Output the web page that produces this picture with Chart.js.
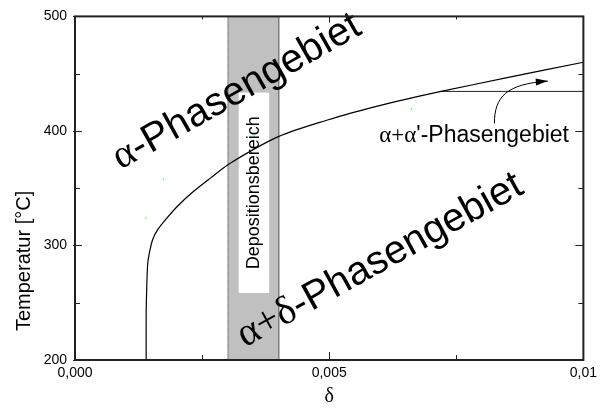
<!DOCTYPE html>
<html>
<head>
<meta charset="utf-8">
<script src="https://cdn.jsdelivr.net/npm/chart.js@4/dist/chart.umd.min.js"></script>
<style>
  html, body { margin: 0; padding: 0; background: #fff; }
  #chart { display: block; }
</style>
</head>
<body>
<canvas id="chart" width="602" height="408"></canvas>
<script>
// phase boundary (solvus)
const solvusDelta = [0.0014, 0.0014, 0.00141, 0.00143, 0.00147, 0.00153, 0.00163, 0.00179, 0.00202, 0.00234, 0.00267, 0.00306, 0.004, 0.005, 0.00576, 0.00635, 0.0072, 0.0085, 0.01];
const solvusTemp  = [200, 240, 261, 284, 295, 305.5, 314, 323, 334.5, 347.5, 359, 372, 395, 410, 419.5, 426, 434.5, 446.5, 460];

// horizontal line marking the α+α' region
const tieDelta = [0.0072, 0.01];
const tieTemp  = [434.5, 434.5];

// deposition range
const bandDelta = [0.003, 0.004];
const boxDelta  = [0.00322, 0.00382];
const boxTemp   = [258.5, 433.5];

// stray green pixels in the original
const speckDelta = [0.00174, 0.00139, 0.00662, 0.0035];
const speckTemp  = [358, 324, 419, 396.5];

// arrow pointing into the α+α' region
const arrowDelta = [0.00825, 0.00825, 0.00849, 0.0093];
const arrowTemp  = [406.5, 430, 441, 443.5];

const xTicks = [0, 0.0025, 0.005, 0.0075, 0.01];
const xTickLabels = ['0,000', '', '0,005', '', '0,01'];
const yTicks = [200, 250, 300, 350, 400, 450, 500];
const yTickLabels = ['200', '', '300', '', '400', '', '500'];

const SANS = '"Liberation Sans", Arial, sans-serif';
const SERIF = '"Liberation Serif", "Times New Roman", serif';

function pts(xs, ys) {
  return xs.map((x, i) => ({ x, y: ys[i] }));
}

function richText(ctx, runs, size, x, y, angle) {
  const fontOf = r => `${size}px ${r.greek ? SERIF : SANS}`;
  let w = 0;
  runs.forEach(r => { ctx.font = fontOf(r); w += ctx.measureText(r.t).width; });
  ctx.save();
  ctx.translate(x, y);
  ctx.rotate(angle * Math.PI / 180);
  ctx.fillStyle = '#000';
  ctx.textAlign = 'left';
  ctx.textBaseline = 'middle';
  let cx = -w / 2;
  runs.forEach(r => {
    ctx.font = fontOf(r);
    ctx.fillText(r.t, cx, 0);
    cx += ctx.measureText(r.t).width;
  });
  ctx.restore();
}

const phasePlot = {
  id: 'phasePlot',
  beforeDatasetsDraw(chart) {
    const { ctx, chartArea: a, scales: { x, y } } = chart;
    ctx.save();
    // grey deposition band
    const x0 = x.getPixelForValue(bandDelta[0]);
    const x1 = x.getPixelForValue(bandDelta[1]);
    ctx.fillStyle = '#c0c0c0';
    ctx.fillRect(x0, a.top, x1 - x0, a.bottom - a.top);
    ctx.strokeStyle = '#444';
    ctx.lineWidth = 1;
    ctx.setLineDash([1, 1]);
    ctx.beginPath(); ctx.moveTo(x0 + 0.5, a.top); ctx.lineTo(x0 + 0.5, a.bottom); ctx.stroke();
    ctx.setLineDash([]);
    ctx.beginPath(); ctx.moveTo(x1 + 0.5, a.top); ctx.lineTo(x1 + 0.5, a.bottom); ctx.stroke();

    // white label box
    const bx0 = x.getPixelForValue(boxDelta[0]);
    const bx1 = x.getPixelForValue(boxDelta[1]);
    const by0 = y.getPixelForValue(boxTemp[1]);
    const by1 = y.getPixelForValue(boxTemp[0]);
    ctx.fillStyle = '#fff';
    ctx.fillRect(bx0, by0, bx1 - bx0, by1 - by0);
    richText(ctx, [{ t: 'Depositionsbereich' }], 18, (bx0 + bx1) / 2, (by0 + by1) / 2, -90);
    ctx.restore();
  },
  afterDatasetsDraw(chart) {
    const { ctx, chartArea: a, scales: { x, y } } = chart;
    ctx.save();
    richText(ctx, [{ t: 'α', greek: true }, { t: '-Phasengebiet' }], 40,
      x.getPixelForValue(0.00318), y.getPixelForValue(434), -29.5);
    richText(ctx, [{ t: 'α+δ', greek: true }, { t: '-Phasengebiet' }], 40,
      x.getPixelForValue(0.0060), y.getPixelForValue(286.7), -29);
    richText(ctx, [{ t: 'α+α', greek: true }, { t: "'-Phasengebiet" }], 23,
      x.getPixelForValue(0.00785), y.getPixelForValue(396), 0);

    // y axis title, sits a little below the axis middle in the original
    richText(ctx, [{ t: 'Temperatur [°C]' }], 20, 24, y.getPixelForValue(286.5), -90);

    // curved arrow
    const ap = arrowDelta.map((d, i) => [x.getPixelForValue(d), y.getPixelForValue(arrowTemp[i])]);
    ctx.strokeStyle = '#000';
    ctx.lineWidth = 1;
    ctx.beginPath();
    ctx.moveTo(ap[0][0], ap[0][1]);
    ctx.bezierCurveTo(ap[1][0], ap[1][1], ap[2][0], ap[2][1], ap[3][0], ap[3][1]);
    ctx.stroke();
    const ang = Math.atan2(ap[3][1] - ap[2][1], ap[3][0] - ap[2][0]);
    ctx.fillStyle = '#000';
    ctx.beginPath();
    ctx.moveTo(ap[3][0], ap[3][1]);
    ctx.lineTo(ap[3][0] - 12 * Math.cos(ang) + 3.5 * Math.sin(ang), ap[3][1] - 12 * Math.sin(ang) - 3.5 * Math.cos(ang));
    ctx.lineTo(ap[3][0] - 12 * Math.cos(ang) - 3.5 * Math.sin(ang), ap[3][1] - 12 * Math.sin(ang) + 3.5 * Math.cos(ang));
    ctx.closePath();
    ctx.fill();

    // frame
    ctx.strokeStyle = '#222';
    ctx.lineWidth = 2;
    ctx.strokeRect(a.left, a.top, a.right - a.left, a.bottom - a.top);

    // inward ticks on all four sides
    ctx.lineWidth = 1;
    ctx.beginPath();
    xTicks.forEach((v, i) => {
      const px = Math.round(x.getPixelForValue(v)) + 0.5;
      const len = xTickLabels[i] ? 8 : 5;
      ctx.moveTo(px, a.bottom); ctx.lineTo(px, a.bottom - len);
      ctx.moveTo(px, a.top); ctx.lineTo(px, a.top + len - 2);
    });
    yTicks.forEach((v, i) => {
      const py = Math.round(y.getPixelForValue(v)) + 0.5;
      const major = !!yTickLabels[i];
      ctx.moveTo(major ? a.left - 2 : a.left, py); ctx.lineTo(a.left + (major ? 7 : 5), py);
      ctx.moveTo(a.right, py); ctx.lineTo(a.right - (major ? 8 : 5), py);
    });
    ctx.stroke();
    ctx.restore();
  }
};

new Chart(document.getElementById('chart'), {
  type: 'scatter',
  data: {
    datasets: [
      { label: 'Solvus', data: pts(solvusDelta, solvusTemp), showLine: true, borderColor: '#000', borderWidth: 1.2, pointRadius: 0, tension: 0.3 },
      { label: 'Grenze', data: pts(tieDelta, tieTemp), showLine: true, borderColor: '#222', borderWidth: 1, pointRadius: 0 },
      { label: 'Punkte', data: pts(speckDelta, speckTemp), pointRadius: 0.8, pointBorderWidth: 0, pointBackgroundColor: '#33ff33' }
    ]
  },
  options: {
    responsive: false,
    animation: false,
    devicePixelRatio: 1,
    layout: { padding: { left: 0, right: 15, top: 14, bottom: 0 } },
    plugins: { legend: { display: false }, tooltip: { enabled: false } },
    scales: {
      x: {
        type: 'linear', min: 0, max: 0.01,
        afterBuildTicks: s => { s.ticks = xTicks.map(v => ({ value: v })); },
        afterFit: s => { s.height = 48; },
        ticks: { callback: (v, i) => xTickLabels[i], font: { family: SANS, size: 14 }, color: '#000', padding: 5, maxRotation: 0, autoSkip: false },
        grid: { display: false, drawTicks: false },
        border: { display: false },
        title: { display: true, text: 'δ', font: { family: SERIF, size: 20, lineHeight: 1.1 }, color: '#000', padding: 0 }
      },
      y: {
        type: 'linear', min: 200, max: 500,
        afterBuildTicks: s => { s.ticks = yTicks.map(v => ({ value: v })); },
        afterFit: s => { s.width = 75; },
        ticks: { callback: (v, i) => yTickLabels[i], font: { family: SANS, size: 14 }, color: '#000', padding: 8, autoSkip: false },
        grid: { display: false, drawTicks: false },
        border: { display: false },
        title: { display: false }
      }
    }
  },
  plugins: [phasePlot]
});
</script>
</body>
</html>
